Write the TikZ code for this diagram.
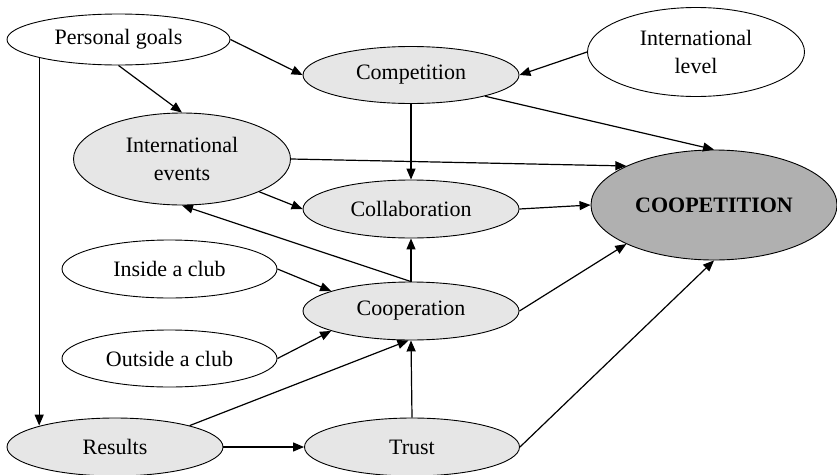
\documentclass[tikz,border=0pt]{standalone}
\usepackage{fontspec}
\setmainfont{Liberation Serif}
\usetikzlibrary{shapes.geometric,arrows.meta}
\definecolor{lightfill}{HTML}{E6E6E6}
\definecolor{darkfill}{HTML}{B0B0B0}
\begin{document}
\begin{tikzpicture}[x=1pt,y=-1pt,
  oval/.style={ellipse,draw=black,line width=0.9pt,inner sep=0pt,align=center,
    font=\fontsize{22}{28}\selectfont},
  white/.style={oval,fill=white},
  grey/.style={oval,fill=lightfill},
  conn/.style={line width=1.2pt,-{Triangle[length=11pt,width=9pt]}}]
\useasboundingbox (0,0) rectangle (837,474);
\node[white,minimum width=223pt,minimum height=51pt] (pg) at (118.5,39.5) {Personal goals};
\node[grey,minimum width=216pt,minimum height=57pt] (comp) at (411,75) {Competition};
\node[white,minimum width=217pt,minimum height=89pt] (il) at (696,52) {International\\level};
\node[grey,minimum width=217pt,minimum height=92pt] (ie) at (182,159) {International\\events};
\node[grey,minimum width=216pt,minimum height=58pt] (coll) at (411,209) {Collaboration};
\node[oval,fill=darkfill,minimum width=246pt,minimum height=110pt] (cp) at (714,205) {\textbf{COOPETITION}};
\node[white,minimum width=215pt,minimum height=58pt] (inside) at (169.5,269) {Inside a club};
\node[grey,minimum width=216pt,minimum height=58pt] (coopn) at (411,311) {Cooperation};
\node[white,minimum width=215pt,minimum height=57pt] (outside) at (169.5,358.5) {Outside a club};
\node[grey,minimum width=216pt,minimum height=58pt] (res) at (115,447) {Results};
\node[grey,minimum width=215pt,minimum height=58pt] (trust) at (412,447) {Trust};

\draw[conn] (pg.east) -- (comp.west);
\draw[conn] (pg.south) -- (ie.north);
\draw[conn] (pg.193) -- (pg.193 |- res.164);
\draw[conn] (il.west) -- (comp.east);
\draw[conn] (comp.344) -- (cp.north);
\draw[conn] (ie.east) -- (cp.156);
\draw[conn] (comp.south) -- (coll.north);
\draw[conn] (ie.337) -- (coll.west);
\draw[conn] (coll.east) -- (cp.west);
\draw[conn] (coopn.north) -- (ie.south);
\draw[conn] (coopn.north) -- (coll.south);
\draw[conn] (inside.east) -- (coopn.166);
\draw[conn] (outside.east) -- (coopn.194);
\draw[conn] (res.16) -- (coopn.265);
\draw[conn] (res.east) -- (trust.west);
\draw[conn] (trust.north) -- (coopn.south);
\draw[conn] (coopn.east) -- (cp.204);
\draw[conn] (trust.east) -- (cp.south);
\end{tikzpicture}
\end{document}
